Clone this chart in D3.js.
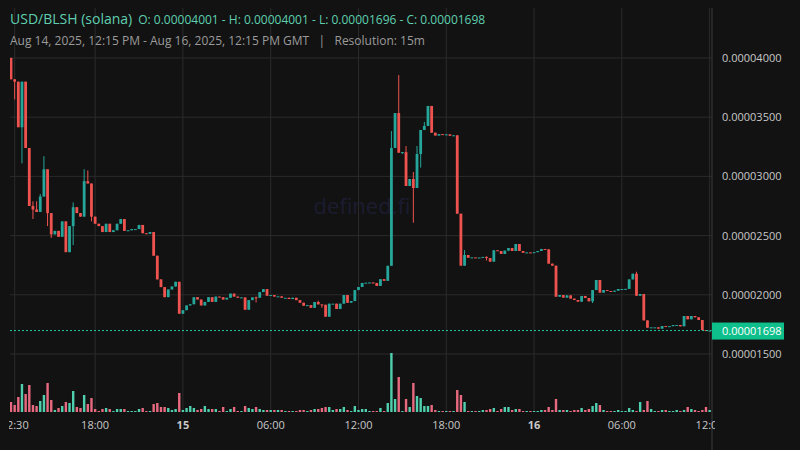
<!DOCTYPE html>
<html><head><meta charset="utf-8">
<script src="https://cdn.jsdelivr.net/npm/d3@7"></script>
<style>body{margin:0;background:#121212;}svg{display:block;font-family:"Open Sans",sans-serif;}</style>
</head><body><svg id="c" width="800" height="450"></svg>
<script>
// prices in units of 1e-8
const closes = [3820,3800,3415,3800,3240,2750,2720,2700,2830,3060,2690,2510,2540,2490,2620,2360,2580,2740,2690,2660,
2960,2940,2660,2600,2580,2530,2600,2530,2545,2600,2640,2540,2545,2555,2555,2590,2520,2515,2530,2330,
2130,2065,1980,2045,2070,2110,1840,1870,1910,1920,1980,1960,1910,1940,1980,1940,1985,1980,1960,1975,
2010,1985,1975,1978,1874,1955,1978,1975,2023,2048,1992,1998,1985,1987,1975,1975,1964,1975,1955,1933,
1908,1913,1890,1939,1919,1916,1815,1925,1925,1880,1925,1998,1933,1947,2040,2066,2100,2102,2104,2100,
2075,2132,2118,2245,3240,3535,3200,3205,2919,2978,2902,3189,3392,3426,3595,3369,3345,3357,3350,3355,
3343,3347,2685,2246,2336,2313,2316,2314,2315,2320,2310,2280,2376,2370,2345,2373,2395,2370,2429,2370,
2355,2358,2356,2360,2370,2387,2384,2263,2246,1984,1998,1976,1995,1968,1956,1942,1990,1973,1945,2040,
2125,2018,2040,2032,2026,2035,2049,2049,2050,2130,2178,1992,2007,1784,1722,1725,1725,1714,1736,1734,
1735,1745,1745,1734,1821,1793,1821,1810,1787,1702,1698,1698];
const firstOpen = 4001;
const wickHigh = [[0,4001],[6,2790],[7,2790],[8,2850],[9,3170],[17,2780],[20,3060],[21,3050],[67,1985],[84,1950],[104,3383],[106,3856],[108,3257],[110,3037],[111,3257],[113,3460],[124,2378],[130,2325],[171,2195],[139,2429]];
const wickLow = [[1,3650],[3,3110],[6,2640],[10,2580],[11,2480],[17,2420],[22,2620],[67,1935],[85,1890],[107,3190],[110,2609],[111,3074],[112,3074],[130,2290],[159,1930]];
const volumes = [10,7,15,28,18,27,7,6,11,17,29,12,2,4,6,10,9,21,5,4,17,8,14,3,1,3,4,3,1,3,3,3,1,1,1,3,4,1,1,8,
9,5,5,4,2,3,19,2,4,6,4,2,3,6,3,3,3,1,5,1,3,5,1,1,6,4,3,5,3,2,2,2,2,2,2,1,1,1,1,2,
2,1,2,3,3,4,5,5,2,3,3,5,2,1,6,2,3,3,1,1,1,4,1,9,59,13,35,1,13,5,29,16,14,6,6,7,2,1,1,1,
1,1,22,17,10,1,1,1,1,2,2,3,4,1,3,5,5,2,3,3,1,1,1,1,1,2,2,5,2,13,2,2,2,1,2,2,4,2,3,6,
9,7,2,1,1,1,2,1,1,4,2,1,10,2,11,3,1,1,2,2,1,1,2,1,2,5,3,2,1,2,5,2];
const priceTicks = [1500,2000,2500,3000,3500,4000];
const timeTicks = [{h:18,label:"18:00",bold:false},{h:24,label:"15",bold:true},{h:30,label:"06:00",bold:false},{h:36,label:"12:00",bold:false},{h:42,label:"18:00",bold:false},{h:48,label:"16",bold:true},{h:54,label:"06:00",bold:false},{h:60,label:"12:00",bold:false},{h:12.5,label:"12:30",bold:false}];
const lastPrice = 1698;

(function(){
const svg = d3.select("#c");
const W=800,H=450, L=10, R=712, T=8, B=412;
const UP="#26a69a", DOWN="#ef5350";
svg.append("rect").attr("width",W).attr("height",H).attr("fill","#121212");

const candles = closes.map((c,i)=>{const o = i===0?firstOpen:closes[i-1];return {i,o,c,h:Math.max(o,c),l:Math.min(o,c),v:volumes[i]};});
wickHigh.forEach(([i,v])=>candles[i].h=Math.max(candles[i].h,v));
wickLow.forEach(([i,v])=>candles[i].l=Math.min(candles[i].l,v));

const x = d3.scaleLinear().domain([12.25,60]).range([11,706+3.64]);
const y = d3.scaleLinear().domain([1500,4000]).range([354,58]);
const yv = d3.scaleLinear().domain([0,60]).range([B,352]);
const xc = d=>x(12.25+d.i*0.25);

svg.append("clipPath").attr("id","clp").append("rect").attr("x",L).attr("y",T).attr("width",R-L).attr("height",B-T);

const g = svg.append("g");
g.selectAll("line.h").data(priceTicks).join("line").attr("x1",L).attr("x2",R).attr("y1",d=>y(d)).attr("y2",d=>y(d)).attr("stroke","#2b2b2b");
g.selectAll("line.v").data(timeTicks).join("line").attr("x1",d=>x(d.h)).attr("x2",d=>x(d.h)).attr("y1",T).attr("y2",B).attr("stroke","#2b2b2b");

svg.append("text").attr("x",362).attr("y",214).attr("text-anchor","middle").attr("font-size",22).attr("fill","#1c1c30").text("defined.fi");

const plot = svg.append("g").attr("clip-path","url(#clp)");
const bw = 2.8;
plot.selectAll("rect.vol").data(candles).join("rect")
 .attr("x",d=>xc(d)-1.2).attr("width",2.4)
 .attr("y",d=>yv(d.v)).attr("height",d=>B-yv(d.v))
 .attr("fill",d=>d.c>=d.o?"#4fcfae":"#e86a80");
plot.selectAll("line.w").data(candles).join("line")
 .attr("x1",xc).attr("x2",xc)
 .attr("y1",d=>y(d.h)).attr("y2",d=>y(d.l)).attr("stroke",d=>d.c>=d.o?UP:DOWN).attr("stroke-width",1);
plot.selectAll("rect.b").data(candles).join("rect")
 .attr("x",d=>xc(d)-bw/2).attr("width",bw)
 .attr("y",d=>y(Math.max(d.o,d.c))).attr("height",d=>Math.max(1,Math.abs(y(d.o)-y(d.c))))
 .attr("fill",d=>d.c>=d.o?UP:DOWN);

svg.append("line").attr("x1",L).attr("x2",R).attr("y1",y(lastPrice)).attr("y2",y(lastPrice))
 .attr("stroke","#22c79a").attr("stroke-dasharray","2,2");

svg.append("line").attr("x1",R).attr("x2",R).attr("y1",T).attr("y2",H).attr("stroke","#3a3a3a");
svg.selectAll("text.p").data(priceTicks).join("text").attr("x",722).attr("y",d=>y(d)+4)
 .attr("font-size",11).attr("fill","#c8c8c8").text(d=>(d*1e-8).toFixed(8));
svg.append("rect").attr("x",712).attr("y",y(lastPrice)-8).attr("width",72).attr("height",17).attr("fill","#0ebf8c");
svg.append("text").attr("x",722).attr("y",y(lastPrice)+4).attr("font-size",11).attr("fill","#ffffff").text((lastPrice*1e-8).toFixed(8));

svg.append("clipPath").attr("id","tl").append("rect").attr("x",9).attr("y",412).attr("width",R-6).attr("height",38);
svg.append("g").attr("clip-path","url(#tl)").selectAll("text").data(timeTicks).join("text")
 .attr("x",d=>x(d.h)).attr("y",429).attr("text-anchor","middle").attr("font-size",11)
 .attr("font-weight",d=>d.bold?"bold":"normal").attr("fill","#c8c8c8").text(d=>d.label);

const t1 = svg.append("text").attr("x",10).attr("y",24).attr("fill","#5fcfae");
t1.append("tspan").attr("font-size",14).text("USD/BLSH (solana)");
t1.append("tspan").attr("font-size",12).attr("dx",6).text("O: 0.00004001 - H: 0.00004001 - L: 0.00001696 - C: 0.00001698");
svg.append("text").attr("x",10).attr("y",45).attr("font-size",12).attr("fill","#9a9a9a").attr("xml:space","preserve")
 .text("Aug 14, 2025, 12:15 PM - Aug 16, 2025, 12:15 PM GMT   |   Resolution: 15m");
})();
</script></body></html>
